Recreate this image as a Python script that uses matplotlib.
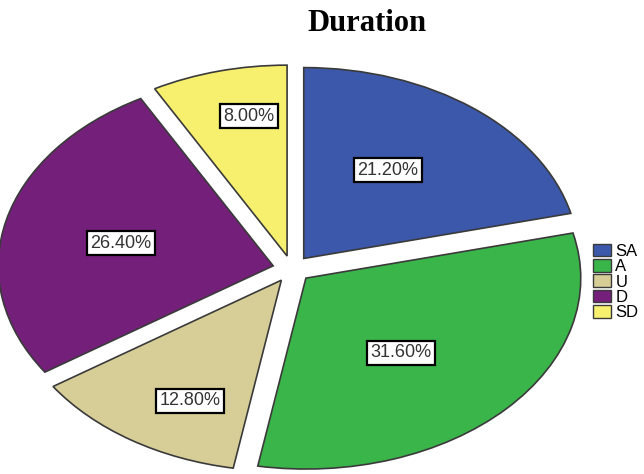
import matplotlib
matplotlib.use("Agg")
import numpy as np
import matplotlib.pyplot as plt
from matplotlib.patches import Patch

categories = ["SA", "A", "U", "D", "SD"]
values = [21.2, 31.6, 12.8, 26.4, 8.0]
colors = ["#3c58ab", "#3ab54a", "#d7ce97", "#74207a", "#f7f06e"]
# placement of each percentage label: radial fraction and angular shift (deg)
label_dist = [0.555, 0.522, 0.714, 0.567, 0.746]
label_shift = [4.7, -5.4, 5.3, 1.6, -3.7]

fig = plt.figure(figsize=(6.44, 4.74), dpi=100)
fig.text(0.57, 0.950, "Duration", ha="center", va="center",
         fontsize=22, fontweight="bold", family="Liberation Serif")

ax = fig.add_axes([-0.0163, -0.0105, 0.939, 0.886])
wedges, texts, autotexts = ax.pie(
    values, colors=colors, startangle=90, counterclock=False,
    explode=[0.07] * len(values), autopct="%.2f%%", pctdistance=0.55,
    wedgeprops=dict(edgecolor="#3a3a3a", linewidth=1.2),
    textprops=dict(fontsize=13, family="Liberation Sans", color="#333333"))
for w, t, d, s in zip(wedges, autotexts, label_dist, label_shift):
    mid = np.deg2rad(0.5 * (w.theta1 + w.theta2) + s)
    cx, cy = w.center
    t.set_position((cx + d * np.cos(mid), cy + d * np.sin(mid)))
    t.set_bbox(dict(facecolor="white", edgecolor="black", linewidth=1.6, pad=2.5))
ax.set_aspect("auto")
ax.set_xlim(-1.1, 1.1)
ax.set_ylim(-1.1, 1.1)
ax.axis("off")

handles = [Patch(facecolor=c, edgecolor="#3a3a3a", linewidth=1.0) for c in colors]
fig.legend(handles, categories, loc="center left", bbox_to_anchor=(0.921, 0.405),
           frameon=False, handlelength=1.08, handleheight=0.78,
           handletextpad=0.25, labelspacing=0.02, borderpad=0.0, borderaxespad=0.0,
           prop=dict(family="Liberation Sans", size=12))

fig.savefig("out.png", dpi=100)
